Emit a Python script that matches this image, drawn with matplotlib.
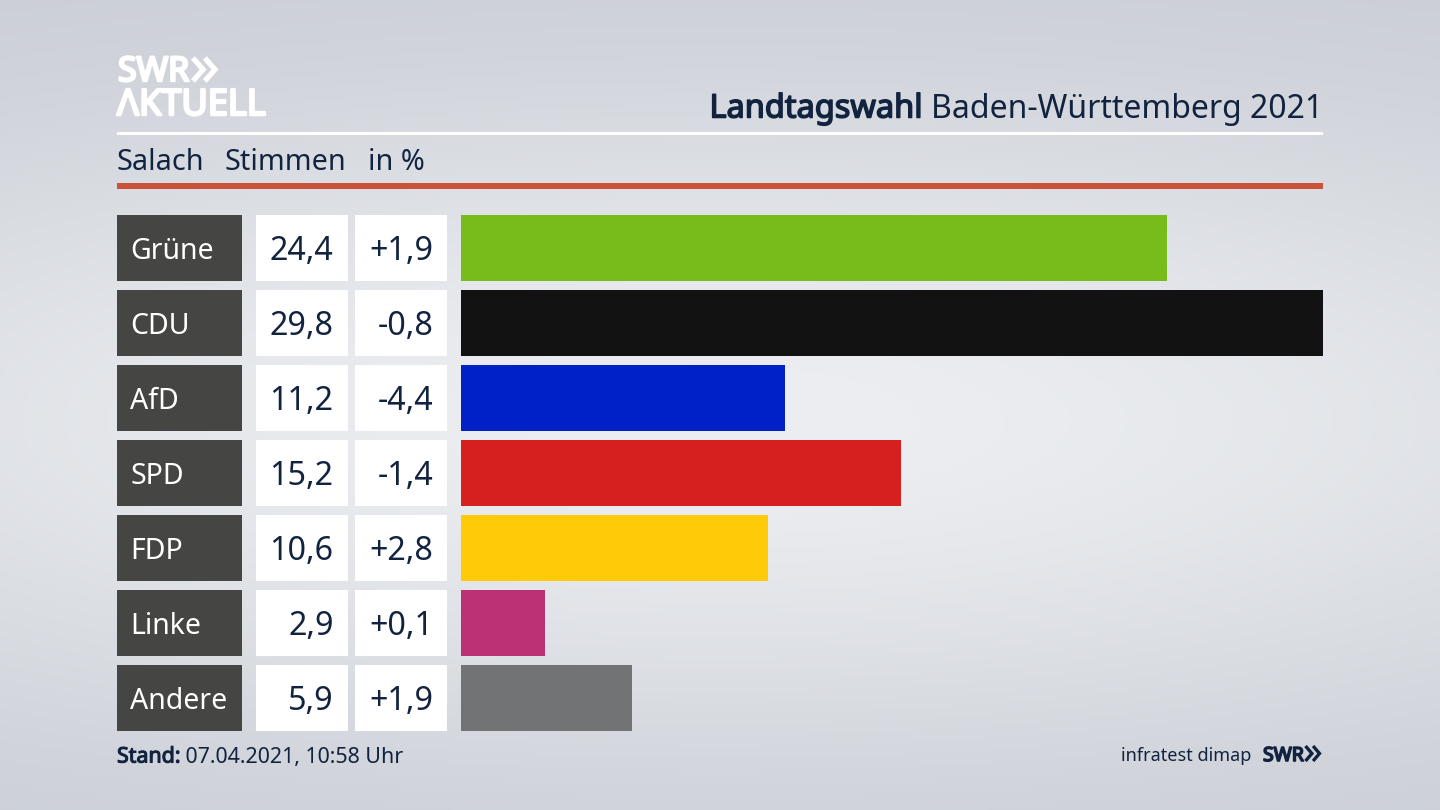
import numpy as np
import matplotlib
matplotlib.use("Agg")
import matplotlib.pyplot as plt
import matplotlib.patheffects as pe
from matplotlib.patches import Rectangle

plt.rcParams["font.family"] = ["Noto Sans", "DejaVu Sans"]

parties = ["Grüne", "CDU", "AfD", "SPD", "FDP", "Linke", "Andere"]
shares = [24.4, 29.8, 11.2, 15.2, 10.6, 2.9, 5.9]
changes = ["+1,9", "-0,8", "-4,4", "-1,4", "+2,8", "+0,1", "+1,9"]
colours = ["#78bc1b", "#121212", "#0021c8", "#d61f1f", "#ffcb08",
           "#bc3076", "#727375"]

NAVY = "#12233f"
W, H = 1440, 810
ROW_TOP = 215
ROW_STEP = 75
ROW_H = 66.4


def heavy(artist, colour, width=1.1):
    # the installed Noto Sans has no bold face, so thicken the outline
    artist.set_path_effects([pe.withStroke(linewidth=width, foreground=colour)])
    return artist


def chevrons(x, y, w, h, colour, lw):
    # the double arrow of the SWR logo
    tip = w * 0.46
    for off in (0, w - tip):
        ax.plot([x + off, x + off + tip, x + off], [y, y + h / 2, y + h],
                color=colour, lw=lw, solid_joinstyle="miter",
                solid_capstyle="butt")


fig = plt.figure(figsize=(W / 100, H / 100), dpi=100)

# background: soft light band through the middle, darker at the edges
bg = fig.add_axes([0, 0, 1, 1], zorder=0)
yy, xx = np.mgrid[0:1:200j, 0:1:356j]
glow = np.exp(-(((yy - 0.52) / 0.42) ** 2) - ((xx - 0.5) / 0.85) ** 2)
low, high = np.array([0xc6, 0xca, 0xd2]), np.array([0xec, 0xee, 0xf1])
bg.imshow((low + (high - low) * glow[..., None]) / 255, aspect="auto",
          extent=(0, W, H, 0))
bg.axis("off")

# everything that is not a bar lives on a pixel-sized overlay
ax = fig.add_axes([0, 0, 1, 1], zorder=2)
ax.patch.set_alpha(0)

heavy(ax.text(118, 72, "SWR", color="white", fontsize=24.4, va="center",
              ha="left"), "white", 1.8)
chevrons(193, 58, 22, 23, "white", 3.8)
heavy(ax.text(117, 106, "ΛKTUELL", color="white", fontsize=26, va="center",
              ha="left"), "white", 1.8)

title = ax.text(1323, 109, "Baden-Württemberg 2021", color=NAVY, fontsize=23,
                va="center", ha="right")
heavy(ax.annotate("Landtagswahl ", xy=(0, 0.5), xycoords=title, color=NAVY,
                  fontsize=23.4, va="center", ha="right"), NAVY)

ax.add_patch(Rectangle((117, 132), 1206, 3, color="white", lw=0))
ax.add_patch(Rectangle((117, 183), 1206, 6, color="#cb5138", lw=0))

for x, s in [(117, "Salach"), (224, "Stimmen"), (368, "in %")]:
    ax.text(x, 162, s, color=NAVY, fontsize=20.7, va="center", ha="left")

for i, party in enumerate(parties):
    top = ROW_TOP + i * ROW_STEP
    mid = top + ROW_H / 2
    ax.add_patch(Rectangle((117, top), 124.5, ROW_H, color="#454543", lw=0))
    ax.add_patch(Rectangle((255.5, top), 92.5, ROW_H, color="white", lw=0))
    ax.add_patch(Rectangle((355, top), 92, ROW_H, color="white", lw=0))
    ax.text(130, mid + 3, party, color="white", fontsize=20.5, va="center",
            ha="left")
    ax.text(333.5, mid + 3, f"{shares[i]:.1f}".replace(".", ","), color=NAVY,
            fontsize=23.2, va="center", ha="right")
    ax.text(433.5, mid + 3, changes[i], color=NAVY, fontsize=23.2, va="center",
            ha="right")

stand = heavy(ax.text(117, 757, "Stand:", color=NAVY, fontsize=15.4,
                      va="center", ha="left"), NAVY, 0.8)
ax.annotate(" 07.04.2021, 10:58 Uhr", xy=(1, 0.5), xycoords=stand, color=NAVY,
            fontsize=15.4, va="center", ha="left")
ax.text(1251, 756, "infratest dimap", color=NAVY, fontsize=13, va="center",
        ha="right")
heavy(ax.text(1263, 756, "SWR", color=NAVY, fontsize=14, va="center",
              ha="left"), NAVY, 1.2)
chevrons(1305.5, 746, 14, 15, NAVY, 2.4)

ax.set_xlim(0, W)
ax.set_ylim(H, 0)
ax.axis("off")

# bars, scaled so the largest share fills the full width
n = len(parties)
bar_h = ROW_H / ROW_STEP
bottom_px = ROW_TOP + (n - 1) * ROW_STEP + ROW_H
bars = fig.add_axes([461 / W, 1 - bottom_px / H, 862 / W,
                     (bottom_px - ROW_TOP) / H], zorder=1)
bars.barh(range(n), shares, height=bar_h, color=colours)
bars.set_xlim(0, max(shares))
bars.set_ylim(n - 1 + bar_h / 2, -bar_h / 2)
bars.axis("off")
bars.patch.set_alpha(0)

fig.savefig("out.png", dpi=100)
